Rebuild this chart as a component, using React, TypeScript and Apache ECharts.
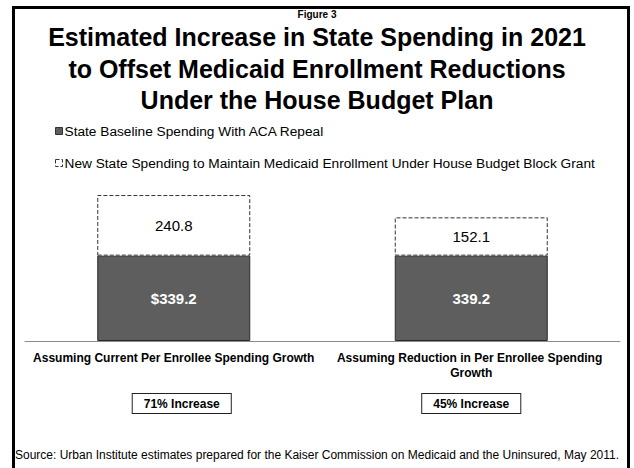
import React, { useEffect, useRef } from "react";
import * as echarts from "echarts";

const categories = [
  "Assuming Current Per Enrollee Spending Growth",
  "Assuming Reduction in Per Enrollee Spending Growth",
];
const baselineValues = [339.2, 339.2];
const newSpendingValues = [240.8, 152.1];
const baselineLabels = ["$339.2", "339.2"];
const increaseLabels = ["71% Increase", "45% Increase"];
const seriesNames = [
  "State Baseline Spending With ACA Repeal",
  "New State Spending to Maintain Medicaid Enrollment Under House Budget Block Grant",
];
const titleLines = [
  "Estimated Increase in State Spending in 2021",
  "to Offset Medicaid Enrollment Reductions",
  "Under the House Budget Plan",
];

const FONT = "'Liberation Sans', Arial, sans-serif";

export default function App() {
  const ref = useRef<HTMLDivElement>(null);
  useEffect(() => {
    document.body.style.margin = "0";
    const chart = echarts.init(ref.current!, null, { renderer: "svg" });
    const titleTops = [22, 53.5, 85];
    chart.setOption({
      animation: false,
      backgroundColor: "#ffffff",
      textStyle: { fontFamily: FONT },
      title: [
        {
          text: "Figure 3",
          left: "center",
          top: 8,
          padding: 0,
          textStyle: { fontFamily: FONT, fontSize: 10, lineHeight: 12, fontWeight: "bold", color: "#000" },
        },
        ...titleLines.map((t, i) => ({
          text: t,
          left: "center",
          top: titleTops[i],
          padding: 0,
          textStyle: {
            fontFamily: FONT,
            fontSize: 25,
            lineHeight: 30,
            fontWeight: "bold",
            color: "#000",
          },
        })),
        {
          text: "Source: Urban Institute estimates prepared for the Kaiser Commission on Medicaid and the Uninsured, May 2011.",
          left: "center",
          top: 448,
          padding: 0,
          textStyle: { fontFamily: FONT, fontSize: 12, lineHeight: 14, fontWeight: "normal", color: "#000" },
        },
      ],
      legend: {
        orient: "vertical",
        left: 55,
        top: 124,
        padding: 0,
        itemWidth: 7,
        itemHeight: 7,
        itemGap: 18,
        icon: "rect",
        textStyle: { fontFamily: FONT, fontSize: 13.7, color: "#000", lineHeight: 14, padding: [0, 0, 0, -3] },
        data: [
          { name: seriesNames[0], itemStyle: { color: "#5e5e5e", borderColor: "#333", borderWidth: 1 } },
          {
            name: seriesNames[1],
            itemStyle: { color: "#fff", borderColor: "#333", borderWidth: 1, borderType: "dashed" },
          },
        ],
      },
      grid: { left: 25, right: 14, top: 190, bottom: 127, containLabel: false },
      xAxis: [
        {
          type: "category",
          data: categories,
          axisLine: { lineStyle: { color: "#8c8c8c", width: 1 } },
          axisTick: { show: false },
          axisLabel: {
            interval: 0,
            margin: 9,
            fontFamily: FONT,
            fontSize: 12,
            fontWeight: "bold",
            color: "#000",
            lineHeight: 15,
            width: 290,
            overflow: "break",
          },
        },
        {
          type: "category",
          data: increaseLabels,
          position: "bottom",
          offset: 49,
          axisLine: { show: false },
          axisTick: { show: false },
          axisLabel: {
            interval: 0,
            margin: 4,
            formatter: (v: string, i: number) => (i === 0 ? "{s|}{box|" + v + "}" : "{box|" + v + "}"),
            rich: {
              s: { width: 16 },
              box: {
                fontFamily: FONT,
                fontSize: 12,
                fontWeight: "bold",
                color: "#000",
                backgroundColor: "#fff",
                borderColor: "#222",
                borderWidth: 1,
                padding: [4, 11, 3, 11],
              },
            },
          },
        },
      ],
      yAxis: {
        type: "value",
        min: 0,
        max: 600,
        show: false,
        splitLine: { show: false },
      },
      series: [
        {
          name: seriesNames[0],
          type: "bar",
          stack: "total",
          barWidth: 153,
          data: baselineValues,
          itemStyle: { color: "#5e5e5e", borderColor: "#2a2a2a", borderWidth: 1 },
          label: {
            show: true,
            position: "inside",
            fontFamily: FONT,
            fontSize: 15,
            fontWeight: "bold",
            color: "#fff",
            formatter: (p: any) => baselineLabels[p.dataIndex],
          },
        },
        {
          name: seriesNames[1],
          type: "bar",
          stack: "total",
          barWidth: 153,
          data: newSpendingValues,
          itemStyle: { color: "#fff", borderColor: "#333", borderWidth: 1, borderType: "dashed" },
          label: {
            show: true,
            position: "inside",
            fontFamily: FONT,
            fontSize: 15,
            color: "#000",
            formatter: (p: any) => String(p.value),
          },
        },
      ],
      graphic: [
        {
          type: "rect",
          shape: { x: 13.5, y: 7.5, width: 615, height: 480 },
          style: { fill: "none", stroke: "#000", lineWidth: 3 },
          silent: true,
        },
      ],
    });
    return () => chart.dispose();
  }, []);
  return <div ref={ref} style={{ width: 634, height: 468 }} />;
}
